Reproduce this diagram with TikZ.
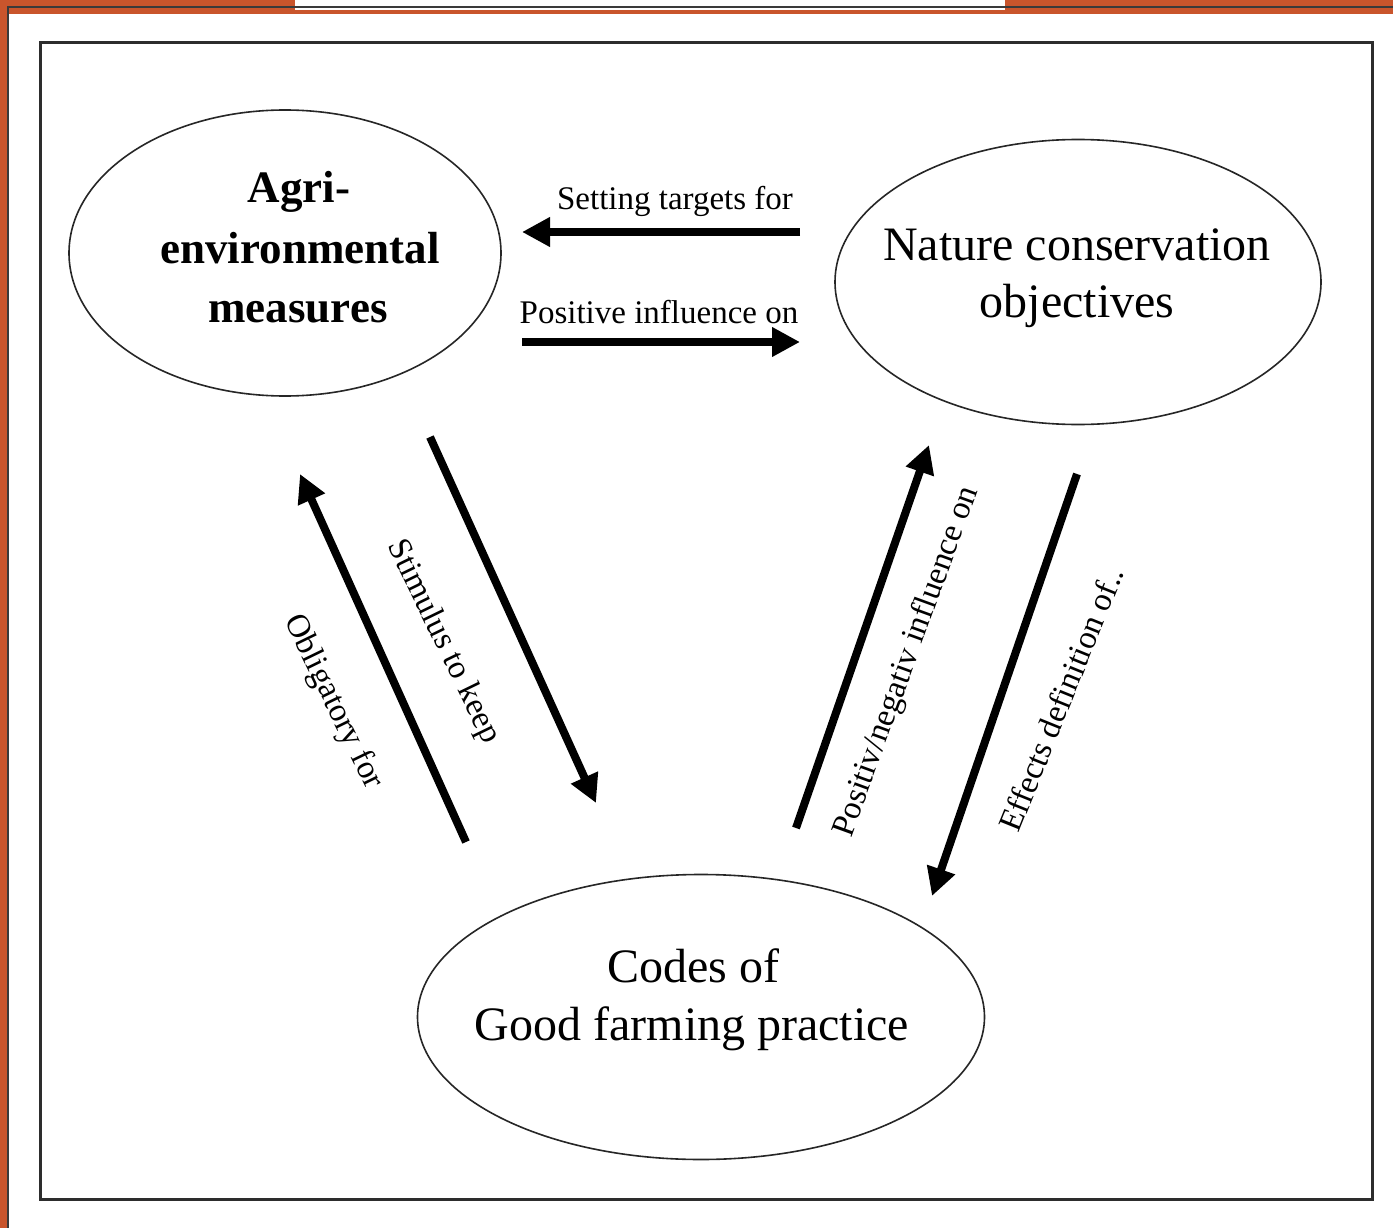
\documentclass[tikz,border=0pt]{standalone}
\usepackage{fontspec}
\setmainfont{Liberation Serif}
\usetikzlibrary{arrows.meta,shapes.geometric}
\definecolor{frameorange}{RGB}{201,85,44}
\definecolor{framegray}{RGB}{58,58,58}
\definecolor{boxgray}{RGB}{45,45,45}
\begin{document}
\begin{tikzpicture}[x=1pt,y=-1pt,
  bubble/.style={draw=black!85, line width=1.6pt, ellipse, inner sep=0pt, outer sep=0pt},
  bigtext/.style={font=\fontsize{48}{58}\selectfont, anchor=base, inner sep=0pt},
  boldtext/.style={font=\fontsize{45}{58}\selectfont\bfseries, anchor=base, inner sep=0pt},
  lbl/.style={font=\fontsize{33}{38}\selectfont, inner sep=0pt},
  flow/.style={line width=8pt, -{Triangle[length=28pt,width=28pt]}}
]
\useasboundingbox (0,0) rectangle (1393,1228);
\fill[white] (0,0) rectangle (1393,1228);
% outer slide frame
\fill[frameorange] (0,0) rectangle (1393,14);
\fill[white] (295,0) rectangle (1005,10);
\fill[frameorange] (0,0) rectangle (8,1228);
\draw[framegray, line width=2pt] (8,1228) -- (8,7) -- (1393,7);
% inner box
\draw[boxgray, line width=2.5pt] (40.5,42.5) rectangle (1372.5,1199.5);

% ellipses
\node[bubble, minimum width=432pt, minimum height=286pt] (agri) at (285,253) {};
\node[bubble, minimum width=486pt, minimum height=285pt] (nature) at (1078,282) {};
\node[bubble, minimum width=567pt, minimum height=285pt] (codes) at (701,1017) {};

% ellipse texts
\node[boldtext] (agri1) at (299,203) {Agri-};
\node[boldtext] (agri2) at (300,263) {environmental};
\node[boldtext] (agri3) at (298,322) {measures};
\node[bigtext] (nat1) at (1077,260) {Nature conservation};
\node[bigtext] (nat2) at (1077,317) {objectives};
\node[bigtext] (codes1) at (693,982) {Codes of};
\node[bigtext] (codes2) at (692,1040) {Good farming practice};

% arrow end points
\coordinate (stS) at (800,232);
\coordinate (stE) at (522,232);
\coordinate (piS) at (522,342);
\coordinate (piE) at (800,342);
\coordinate (skS) at (430,437);
\coordinate (skE) at (596,803);
\coordinate (obS) at (466,842);
\coordinate (obE) at (300,474);
\coordinate (pnS) at (796,828);
\coordinate (pnE) at (929,445);
\coordinate (edS) at (1077,474);
\coordinate (edE) at (932,896);

\draw[flow] (stS) -- (stE);
\draw[flow] (piS) -- (piE);
\draw[flow] (skS) -- (skE);
\draw[flow] (obS) -- (obE);
\draw[flow] (pnS) -- (pnE);
\draw[flow] (edS) -- (edE);

% connector labels
\node[lbl, anchor=base] (lst) at (675,209) {Setting targets for};
\node[lbl, anchor=base] (lpi) at (659,323) {Positive influence on};
\node[lbl, rotate=-64] (lsk) at (443,642) {Stimulus to keep};
\node[lbl, rotate=-64] (lob) at (333,702) {Obligatory for};
\node[lbl, rotate=70] (lpn) at (907,662) {Positiv/negativ influence on};
\node[lbl, rotate=68] (led) at (1061,699) {Effects definition of..};
\end{tikzpicture}
\end{document}
